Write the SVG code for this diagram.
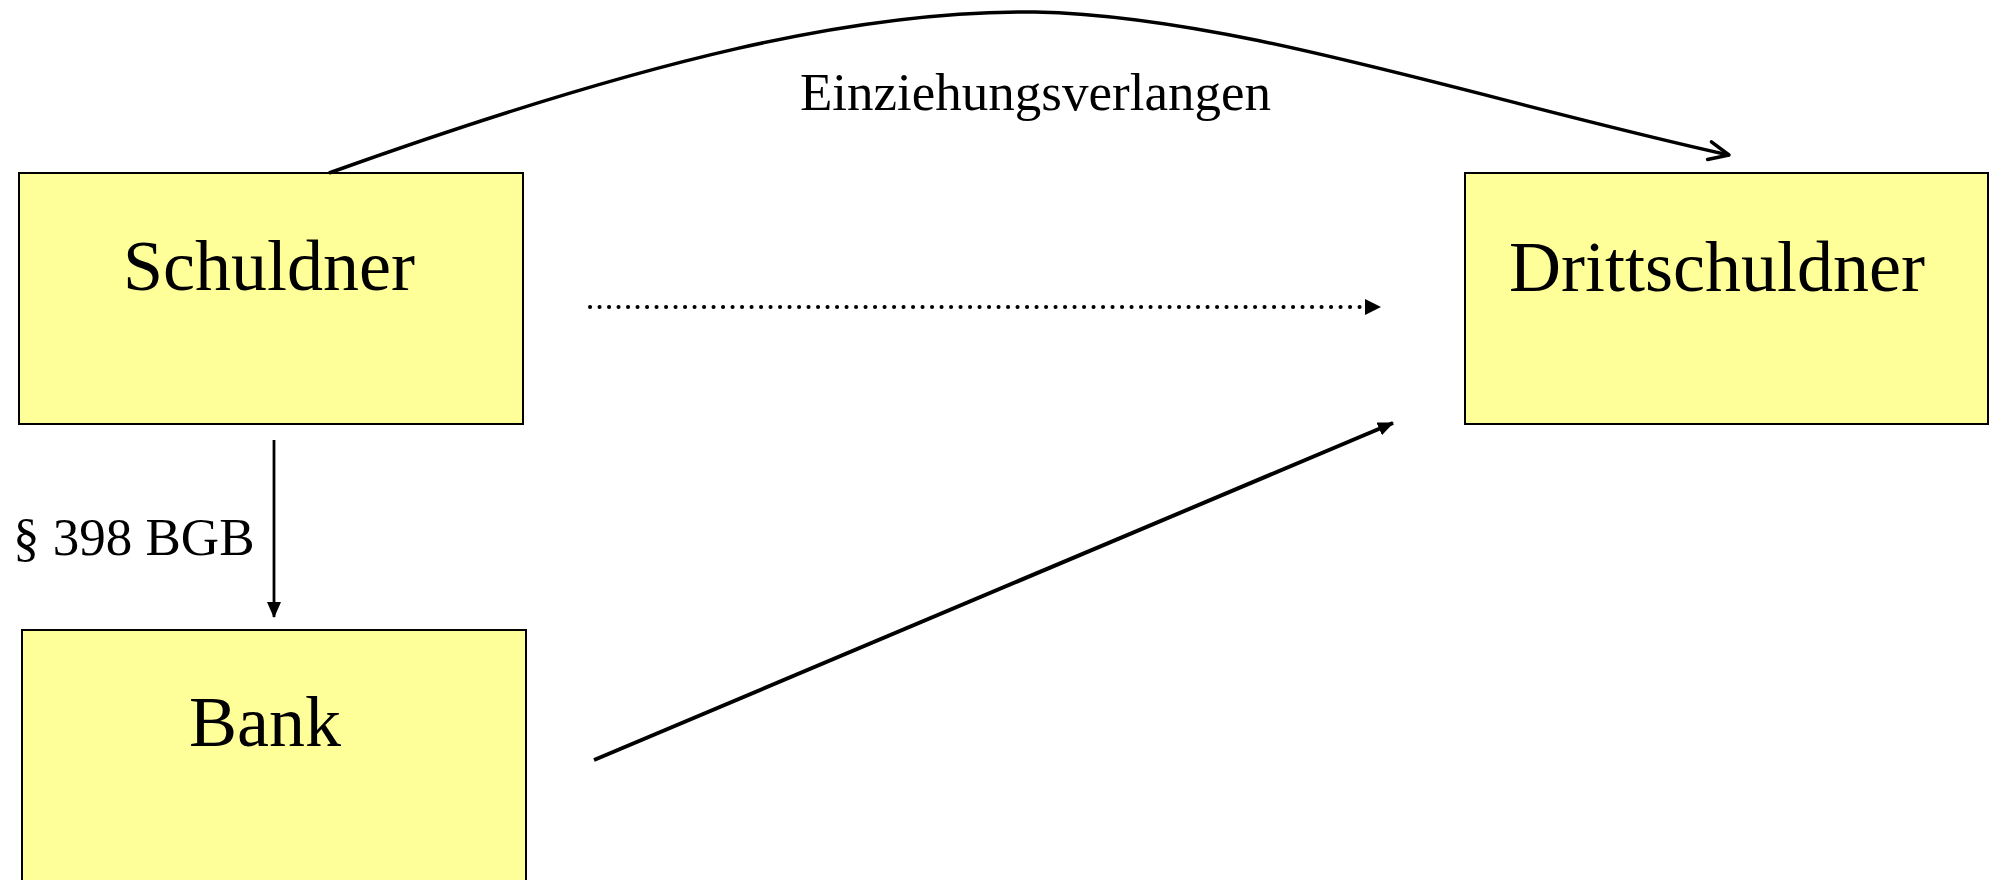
<svg xmlns="http://www.w3.org/2000/svg" width="1992" height="880" viewBox="0 0 1992 880">
<style>
.box{fill:#FFFF99;stroke:#000;stroke-width:2}
.lbl{font-family:"Liberation Serif","Times New Roman",serif;fill:#000}
.big{font-size:72px}
.small{font-size:53px}
.conn{fill:none;stroke:#000}
</style>
<defs>
<marker id="tri" viewBox="0 0 16 16" refX="15" refY="8" markerWidth="16" markerHeight="16" markerUnits="userSpaceOnUse" orient="auto">
<path d="M0,1 L16,8 L0,15 Z" fill="#000"/>
</marker>
<marker id="open" viewBox="0 0 24 24" refX="22" refY="12" markerWidth="24" markerHeight="24" markerUnits="userSpaceOnUse" orient="auto">
<path d="M2,3 L22,12 L2,21" fill="none" stroke="#000" stroke-width="3.5" stroke-linecap="round" stroke-linejoin="round"/>
</marker>
</defs>
<rect width="1992" height="880" fill="#fff"/>
<g id="schuldner">
<rect class="box" x="19" y="173" width="504" height="251"/>
<text class="lbl big" x="123" y="290">Schuldner</text>
</g>
<g id="drittschuldner">
<rect class="box" x="1465" y="173" width="523" height="251"/>
<text class="lbl big" x="1509" y="291">Drittschuldner</text>
</g>
<g id="bank">
<rect class="box" x="22" y="630" width="504" height="270"/>
<text class="lbl big" x="189" y="746">Bank</text>
</g>
<g id="connectors">
<path class="conn" stroke-width="3.5" d="M329,173 C650,58 860,10 1035,12 C1235,16 1480,100 1729,155" marker-end="url(#open)"/>
<text class="lbl small" x="800" y="110">Einziehungsverlangen</text>
<line class="conn" stroke-width="2.8" x1="274" y1="440" x2="274" y2="617" marker-end="url(#tri)"/>
<text class="lbl small" x="13" y="555">§ 398 BGB</text>
<line class="conn" stroke-width="4" stroke-linecap="round" stroke-dasharray="0.1 9.4" x1="590" y1="307" x2="1367" y2="307"/>
<path d="M1365,299 L1381,307 L1365,315 Z" fill="#000"/>
<line class="conn" stroke-width="4" x1="594" y1="760" x2="1393" y2="423" marker-end="url(#tri)"/>
</g>
</svg>
